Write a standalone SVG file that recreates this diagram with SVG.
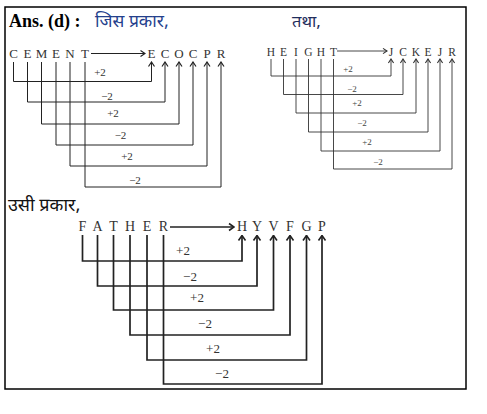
<svg xmlns="http://www.w3.org/2000/svg" width="487" height="414" viewBox="0 0 487 414">
<style>
.t{font-family:"Liberation Serif","Times New Roman",serif;fill:#333;text-anchor:middle}
.s1{font-size:13px}
.s2{font-size:11.5px}
.s3{font-size:14px}
.l1{font-size:11px}
.l2{font-size:9px;fill:#444}
.l3{font-size:13px}
.hi{font-family:"Noto Sans Devanagari","Noto Sans","Lohit Devanagari",sans-serif}
.c1{fill:none;stroke:#222;stroke-width:1}
.c2{fill:none;stroke:#333;stroke-width:0.9}
.c3{fill:none;stroke:#222;stroke-width:1.7}
</style>
<defs>
<marker id="a1" markerUnits="userSpaceOnUse" viewBox="-6 -4 7 8" refX="0" refY="0" markerWidth="7" markerHeight="8" orient="auto"><path d="M-4.5,-3 L0,0 L-4.5,3" fill="none" stroke="#222" stroke-width="1.2"/></marker>
<marker id="a2" markerUnits="userSpaceOnUse" viewBox="-6 -4 7 8" refX="0" refY="0" markerWidth="7" markerHeight="8" orient="auto"><path d="M-4,-2.6 L0,0 L-4,2.6" fill="none" stroke="#333" stroke-width="1.1"/></marker>
<marker id="a3" markerUnits="userSpaceOnUse" viewBox="-7 -5 8 10" refX="0" refY="0" markerWidth="8" markerHeight="10" orient="auto"><path d="M-5,-3.5 L0,0 L-5,3.5" fill="none" stroke="#222" stroke-width="1.6"/></marker>
</defs>
<rect x="5" y="7" width="461" height="382" fill="#fff" stroke="#000" stroke-width="1.5"/>
<g id="title1"><text x="9" y="27" font-family="Liberation Serif,serif" font-weight="bold" font-size="18" fill="#000">Ans. (d) :</text><text class="hi" x="95" y="27" font-size="17.5" fill="#24408c">जिस प्रकार,</text></g>
<g id="title2"><text class="hi" x="292" y="27" font-size="16.5" fill="#1f2d5c">तथा,</text></g>
<g id="title3"><text class="hi" x="8" y="211" font-size="18" fill="#111">उसी प्रकार,</text></g>

<g id="cement">
<g id="n1C"><text class="t s1" x="13.5" y="58">C</text></g>
<g id="n1E"><text class="t s1" x="27.5" y="58">E</text></g>
<g id="n1M"><text class="t s1" x="41.5" y="58">M</text></g>
<g id="n1E2"><text class="t s1" x="56" y="58">E</text></g>
<g id="n1N"><text class="t s1" x="70" y="58">N</text></g>
<g id="n1T"><text class="t s1" x="85" y="58">T</text></g>
</g>
<g id="ecocpr">
<g id="o1E"><text class="t s1" x="151.5" y="58">E</text></g>
<g id="o1C"><text class="t s1" x="165" y="58">C</text></g>
<g id="o1O"><text class="t s1" x="179" y="58">O</text></g>
<g id="o1C2"><text class="t s1" x="193" y="58">C</text></g>
<g id="o1P"><text class="t s1" x="207" y="58">P</text></g>
<g id="o1R"><text class="t s1" x="221" y="58">R</text></g>
</g>

<g id="height">
<g id="n2H"><text class="t s2" x="271" y="56">H</text></g>
<g id="n2E"><text class="t s2" x="283.5" y="56">E</text></g>
<g id="n2I"><text class="t s2" x="296" y="56">I</text></g>
<g id="n2G"><text class="t s2" x="308.5" y="56">G</text></g>
<g id="n2H2"><text class="t s2" x="321" y="56">H</text></g>
<g id="n2T"><text class="t s2" x="333.5" y="56">T</text></g>
</g>
<g id="jckejr">
<g id="o2J"><text class="t s2" x="391" y="56">J</text></g>
<g id="o2C"><text class="t s2" x="403" y="56">C</text></g>
<g id="o2K"><text class="t s2" x="416" y="56">K</text></g>
<g id="o2E"><text class="t s2" x="428" y="56">E</text></g>
<g id="o2J2"><text class="t s2" x="440" y="56">J</text></g>
<g id="o2R"><text class="t s2" x="452" y="56">R</text></g>
</g>

<g id="father">
<g id="n3F"><text class="t s3" x="82.5" y="231">F</text></g>
<g id="n3A"><text class="t s3" x="97.5" y="231">A</text></g>
<g id="n3T"><text class="t s3" x="113.5" y="231">T</text></g>
<g id="n3H"><text class="t s3" x="130" y="231">H</text></g>
<g id="n3E"><text class="t s3" x="147" y="231">E</text></g>
<g id="n3R"><text class="t s3" x="163.5" y="231">R</text></g>
</g>
<g id="hyvfgp">
<g id="o3H"><text class="t s3" x="242" y="231">H</text></g>
<g id="o3Y"><text class="t s3" x="257" y="231">Y</text></g>
<g id="o3V"><text class="t s3" x="273.5" y="231">V</text></g>
<g id="o3F"><text class="t s3" x="290" y="231">F</text></g>
<g id="o3G"><text class="t s3" x="306.5" y="231">G</text></g>
<g id="o3P"><text class="t s3" x="322" y="231">P</text></g>
</g>

<g id="connectors">
<path class="c1" d="M91,53.5 H145" marker-end="url(#a1)"/>
<path class="c1" d="M13.5,62 V81.5 H151.5 V62" marker-end="url(#a1)"/>
<path class="c1" d="M27.5,62 V102 H165 V62" marker-end="url(#a1)"/>
<path class="c1" d="M41.5,62 V124 H179 V62" marker-end="url(#a1)"/>
<path class="c1" d="M56,62 V145 H193 V62" marker-end="url(#a1)"/>
<path class="c1" d="M70,62 V166 H207 V62" marker-end="url(#a1)"/>
<path class="c1" d="M85,62 V187 H221 V62" marker-end="url(#a1)"/>
<text class="t l1" x="100" y="76">+2</text>
<text class="t l1" x="107" y="100">−2</text>
<text class="t l1" x="113" y="117">+2</text>
<text class="t l1" x="120.5" y="139">−2</text>
<text class="t l1" x="127" y="160">+2</text>
<text class="t l1" x="135" y="184">−2</text>

<path class="c2" d="M337,51 H387" marker-end="url(#a2)"/>
<path class="c2" d="M271,59 V76 H391 V59" marker-end="url(#a2)"/>
<path class="c2" d="M283.5,59 V94.5 H403 V59" marker-end="url(#a2)"/>
<path class="c2" d="M296,59 V113 H416 V59" marker-end="url(#a2)"/>
<path class="c2" d="M308.5,59 V132 H428 V59" marker-end="url(#a2)"/>
<path class="c2" d="M321,59 V151 H440 V59" marker-end="url(#a2)"/>
<path class="c2" d="M333.5,59 V169 H452 V59" marker-end="url(#a2)"/>
<text class="t l2" x="348" y="72">+2</text>
<text class="t l2" x="352" y="92">−2</text>
<text class="t l2" x="357" y="106">+2</text>
<text class="t l2" x="362" y="126">−2</text>
<text class="t l2" x="367" y="145">+2</text>
<text class="t l2" x="378" y="165">−2</text>

<path class="c3" d="M170,227 H234" marker-end="url(#a3)"/>
<path class="c3" d="M82.5,235 V261 H242 V235.5" marker-end="url(#a3)"/>
<path class="c3" d="M97.5,235 V286 H257 V235.5" marker-end="url(#a3)"/>
<path class="c3" d="M113.5,235 V310 H273.5 V235.5" marker-end="url(#a3)"/>
<path class="c3" d="M130,235 V335 H290 V235.5" marker-end="url(#a3)"/>
<path class="c3" d="M147,235 V360 H306.5 V235.5" marker-end="url(#a3)"/>
<path class="c3" d="M163.5,235 V384 H322 V235.5" marker-end="url(#a3)"/>
<text class="t l3" x="183" y="255">+2</text>
<text class="t l3" x="190" y="281">−2</text>
<text class="t l3" x="197" y="302">+2</text>
<text class="t l3" x="205" y="328">−2</text>
<text class="t l3" x="213" y="353">+2</text>
<text class="t l3" x="222" y="378">−2</text>
</g>
</svg>
